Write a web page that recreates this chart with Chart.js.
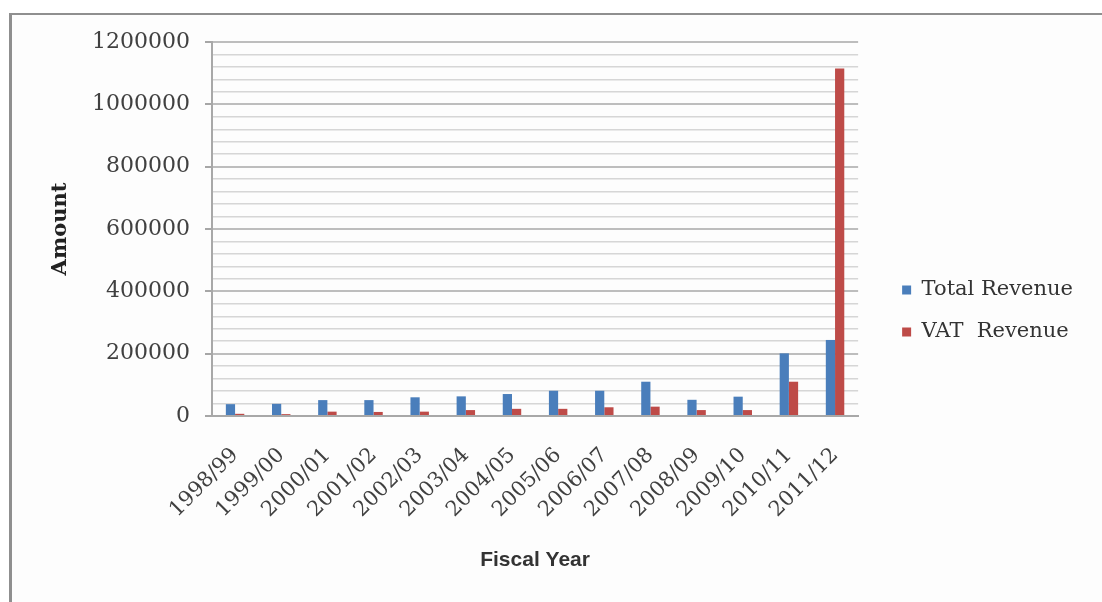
<!DOCTYPE html>
<html>
<head>
<meta charset="utf-8">
<script src="https://cdn.jsdelivr.net/npm/chart.js@4/dist/chart.umd.min.js"></script>
<style>
  html, body { margin: 0; padding: 0; background: #fff; }
  #wrap { position: relative; width: 1102px; height: 602px; overflow: hidden; }
  #frame {
    position: absolute; left: 9px; top: 13px; width: 1100px; height: 600px;
    border-left: 3px solid #8f8f8f; border-top: 2px solid #8f8f8f; background: #fdfdfd;
  }
  #c { position: absolute; left: 0; top: 0; }
</style>
</head>
<body>
<div id="wrap">
  <div id="frame"></div>
  <canvas id="c" width="1102" height="602"></canvas>
</div>
<script>
// Fiscal years on the category axis
const fiscalYears = ['1998/99', '1999/00', '2000/01', '2001/02', '2002/03', '2003/04', '2004/05',
  '2005/06', '2006/07', '2007/08', '2008/09', '2009/10', '2010/11', '2011/12'];

// Revenue amounts per fiscal year
const totalRevenue = [38000, 39000, 51000, 51000, 60000, 63000, 70500,
  81000, 81000, 110000, 52000, 62000, 201000, 244000];
const vatRevenue = [7000, 6000, 14000, 13000, 14000, 19000, 23000,
  23000, 28000, 30000, 19000, 19000, 110000, 1115000];

const seriesNames = ['Total Revenue', 'VAT  Revenue'];

// Value axis: labelled every 200000, light grid every 40000
const amountMax = 1200000;
const labelStep = 200000;
const gridStep = 40000;

Chart.defaults.font.family = "'DejaVu Serif', serif";

const isMajor = (ctx) => ctx.tick && ctx.tick.value % labelStep === 0;

new Chart(document.getElementById('c'), {
  type: 'bar',
  data: {
    labels: fiscalYears,
    datasets: [
      { label: seriesNames[0], data: totalRevenue, backgroundColor: '#4a7ebb', borderWidth: 0 },
      { label: seriesNames[1], data: vatRevenue, backgroundColor: '#be4b48', borderWidth: 0 }
    ]
  },
  options: {
    responsive: false,
    animation: false,
    devicePixelRatio: 1,
    layout: { padding: { top: 42, bottom: 22, left: 0, right: 19 } },
    datasets: { bar: { categoryPercentage: 0.4, barPercentage: 1.0 } },
    plugins: {
      tooltip: { enabled: false },
      legend: {
        position: 'right',
        maxWidth: 300,
        labels: {
          font: { size: 21 },
          color: '#333',
          boxWidth: 9,
          boxHeight: 9,
          padding: 21
        }
      }
    },
    scales: {
      x: {
        grid: { display: false, drawTicks: false },
        border: { display: true, color: '#a8a8a8', width: 2 },
        ticks: {
          autoSkip: false, minRotation: 45, maxRotation: 45,
          font: { size: 21 }, color: '#404040', padding: 27
        },
        title: {
          display: true, text: 'Fiscal Year', color: '#333',
          font: { family: "'Liberation Sans', Arial, sans-serif", size: 21, weight: 'bold' },
          padding: { top: 0, bottom: 7 }
        },
        afterFit: (s) => { s.height = 164; }
      },
      y: {
        min: 0, max: amountMax,
        ticks: {
          stepSize: gridStep, autoSkip: false, padding: 15,
          font: { size: 22 }, color: '#404040',
          callback: (v) => (v % labelStep === 0 ? String(v) : '')
        },
        grid: {
          color: (ctx) => (isMajor(ctx) ? '#bdbdbd' : '#d6d6d6'),
          lineWidth: (ctx) => (isMajor(ctx) ? 2 : 1.5),
          tickLength: 7,
          tickColor: (ctx) => (isMajor(ctx) ? '#a6a6a6' : 'rgba(0,0,0,0)')
        },
        border: { display: true, color: '#a8a8a8', width: 2 },
        title: {
          display: true, text: 'Amount', color: '#222',
          font: { size: 21, weight: 'bold' },
          padding: { top: 48, bottom: 0 }
        },
        afterFit: (s) => { s.width = 212; }
      },
      // empty band between the plot and the legend
      gap: {
        type: 'linear', position: 'right', display: true,
        grid: { display: false, drawTicks: false },
        border: { display: false },
        ticks: { display: false },
        afterFit: (s) => { s.width = 23; }
      }
    }
  }
});
</script>
</body>
</html>
